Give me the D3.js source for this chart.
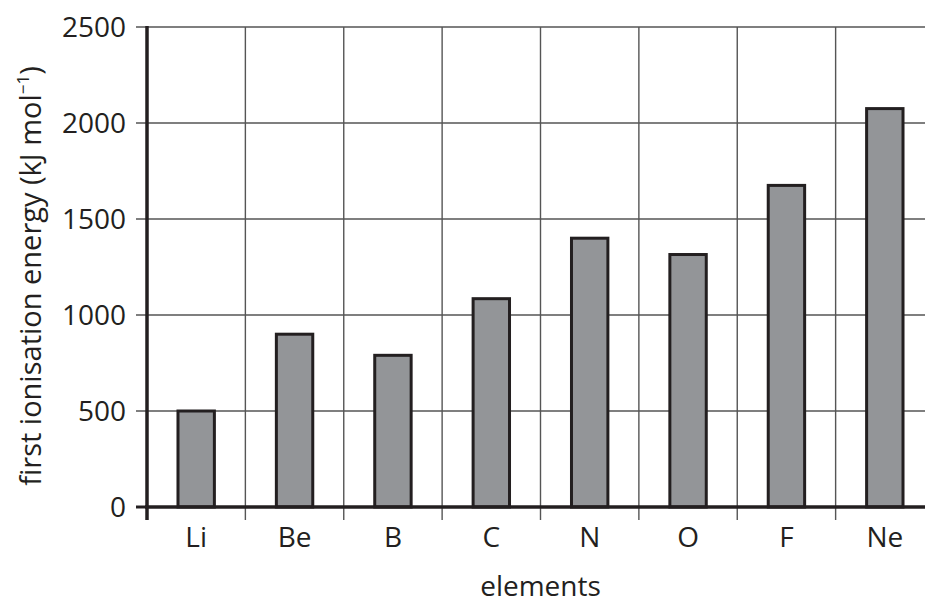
<!DOCTYPE html>
<html lang="en">
<head>
<meta charset="UTF-8" />
<title>First ionisation energy</title>
<script src="https://d3js.org/d3.v7.min.js"></script>
<style>
    body {
        margin: 0;
        background: #ffffff;
        overflow: hidden;
    }
    text {
        font-family: "Open Sans", "Noto Sans", sans-serif;
        fill: #231f20;
    }
</style>
</head>
<body>
<svg id="chart" width="925" height="605"></svg>
<script>
    // chart data
    const elements = ["Li", "Be", "B", "C", "N", "O", "F", "Ne"];
    const energies = [500, 900, 790, 1085, 1400, 1315, 1675, 2075];
    const yTicks = [0, 500, 1000, 1500, 2000, 2500];

    const svg = d3.select("#chart");

    // plot area (runs past the right edge, like the original crop)
    const plotLeft = 147, plotRight = 934, plotTop = 27, plotBottom = 507;
    const fontSize = 28;

    const x = d3.scaleBand()
        .domain(elements)
        .range([plotLeft, plotRight])
        .padding(0);

    const y = d3.scaleLinear()
        .domain([0, 2500])
        .range([plotBottom, plotTop]);

    const gridColor = "#555555";
    const ink = "#231f20";

    // horizontal grid lines
    svg.append("g")
        .selectAll("line")
        .data(yTicks.filter(d => d > 0))
        .join("line")
        .attr("x1", plotLeft - 11)
        .attr("x2", plotRight)
        .attr("y1", d => y(d))
        .attr("y2", d => y(d))
        .attr("stroke", gridColor)
        .attr("stroke-width", 1.4);

    // vertical grid lines at band edges (they poke below the axis as ticks)
    svg.append("g")
        .selectAll("line")
        .data(elements.slice(1))
        .join("line")
        .attr("x1", d => x(d))
        .attr("x2", d => x(d))
        .attr("y1", plotTop)
        .attr("y2", plotBottom + 13)
        .attr("stroke", gridColor)
        .attr("stroke-width", 1.4);

    // zero tick
    svg.append("line")
        .attr("x1", plotLeft - 11).attr("x2", plotLeft)
        .attr("y1", y(0)).attr("y2", y(0))
        .attr("stroke", ink).attr("stroke-width", 3);

    // y tick labels
    svg.append("g")
        .selectAll("text")
        .data(yTicks)
        .join("text")
        .attr("x", plotLeft - 21)
        .attr("y", d => y(d))
        .attr("dy", "0.36em")
        .attr("text-anchor", "end")
        .attr("font-size", fontSize)
        .text(d => d);

    // bars
    const barW = x.bandwidth() * 0.37;
    svg.append("g")
        .selectAll("rect")
        .data(elements)
        .join("rect")
        .attr("x", d => x(d) + (x.bandwidth() - barW) / 2)
        .attr("width", barW)
        .attr("y", (d, i) => y(energies[i]))
        .attr("height", (d, i) => y(0) - y(energies[i]))
        .attr("fill", "#939598")
        .attr("stroke", ink)
        .attr("stroke-width", 3);

    // axis lines
    svg.append("line")
        .attr("x1", plotLeft).attr("x2", plotLeft)
        .attr("y1", plotTop - 1).attr("y2", plotBottom + 13)
        .attr("stroke", ink).attr("stroke-width", 3.5);

    svg.append("line")
        .attr("x1", plotLeft - 2).attr("x2", plotRight)
        .attr("y1", y(0)).attr("y2", y(0))
        .attr("stroke", ink).attr("stroke-width", 3.5);

    // x tick labels
    svg.append("g")
        .selectAll("text")
        .data(elements)
        .join("text")
        .attr("x", d => x(d) + x.bandwidth() / 2)
        .attr("y", 547)
        .attr("text-anchor", "middle")
        .attr("font-size", fontSize)
        .text(d => d);

    // axis titles
    svg.append("text")
        .attr("x", (plotLeft + plotRight) / 2)
        .attr("y", 596)
        .attr("text-anchor", "middle")
        .attr("font-size", fontSize)
        .text("elements");

    const yTitle = svg.append("text")
        .attr("transform", "translate(41,276) rotate(-90)")
        .attr("text-anchor", "middle")
        .attr("font-size", 29);
    yTitle.append("tspan").text("first ionisation energy (kJ mol");
    yTitle.append("tspan").attr("font-size", 17).attr("dy", -12).text("\u22121");
    yTitle.append("tspan").attr("dy", 12).text(")");
</script>
</body>
</html>
